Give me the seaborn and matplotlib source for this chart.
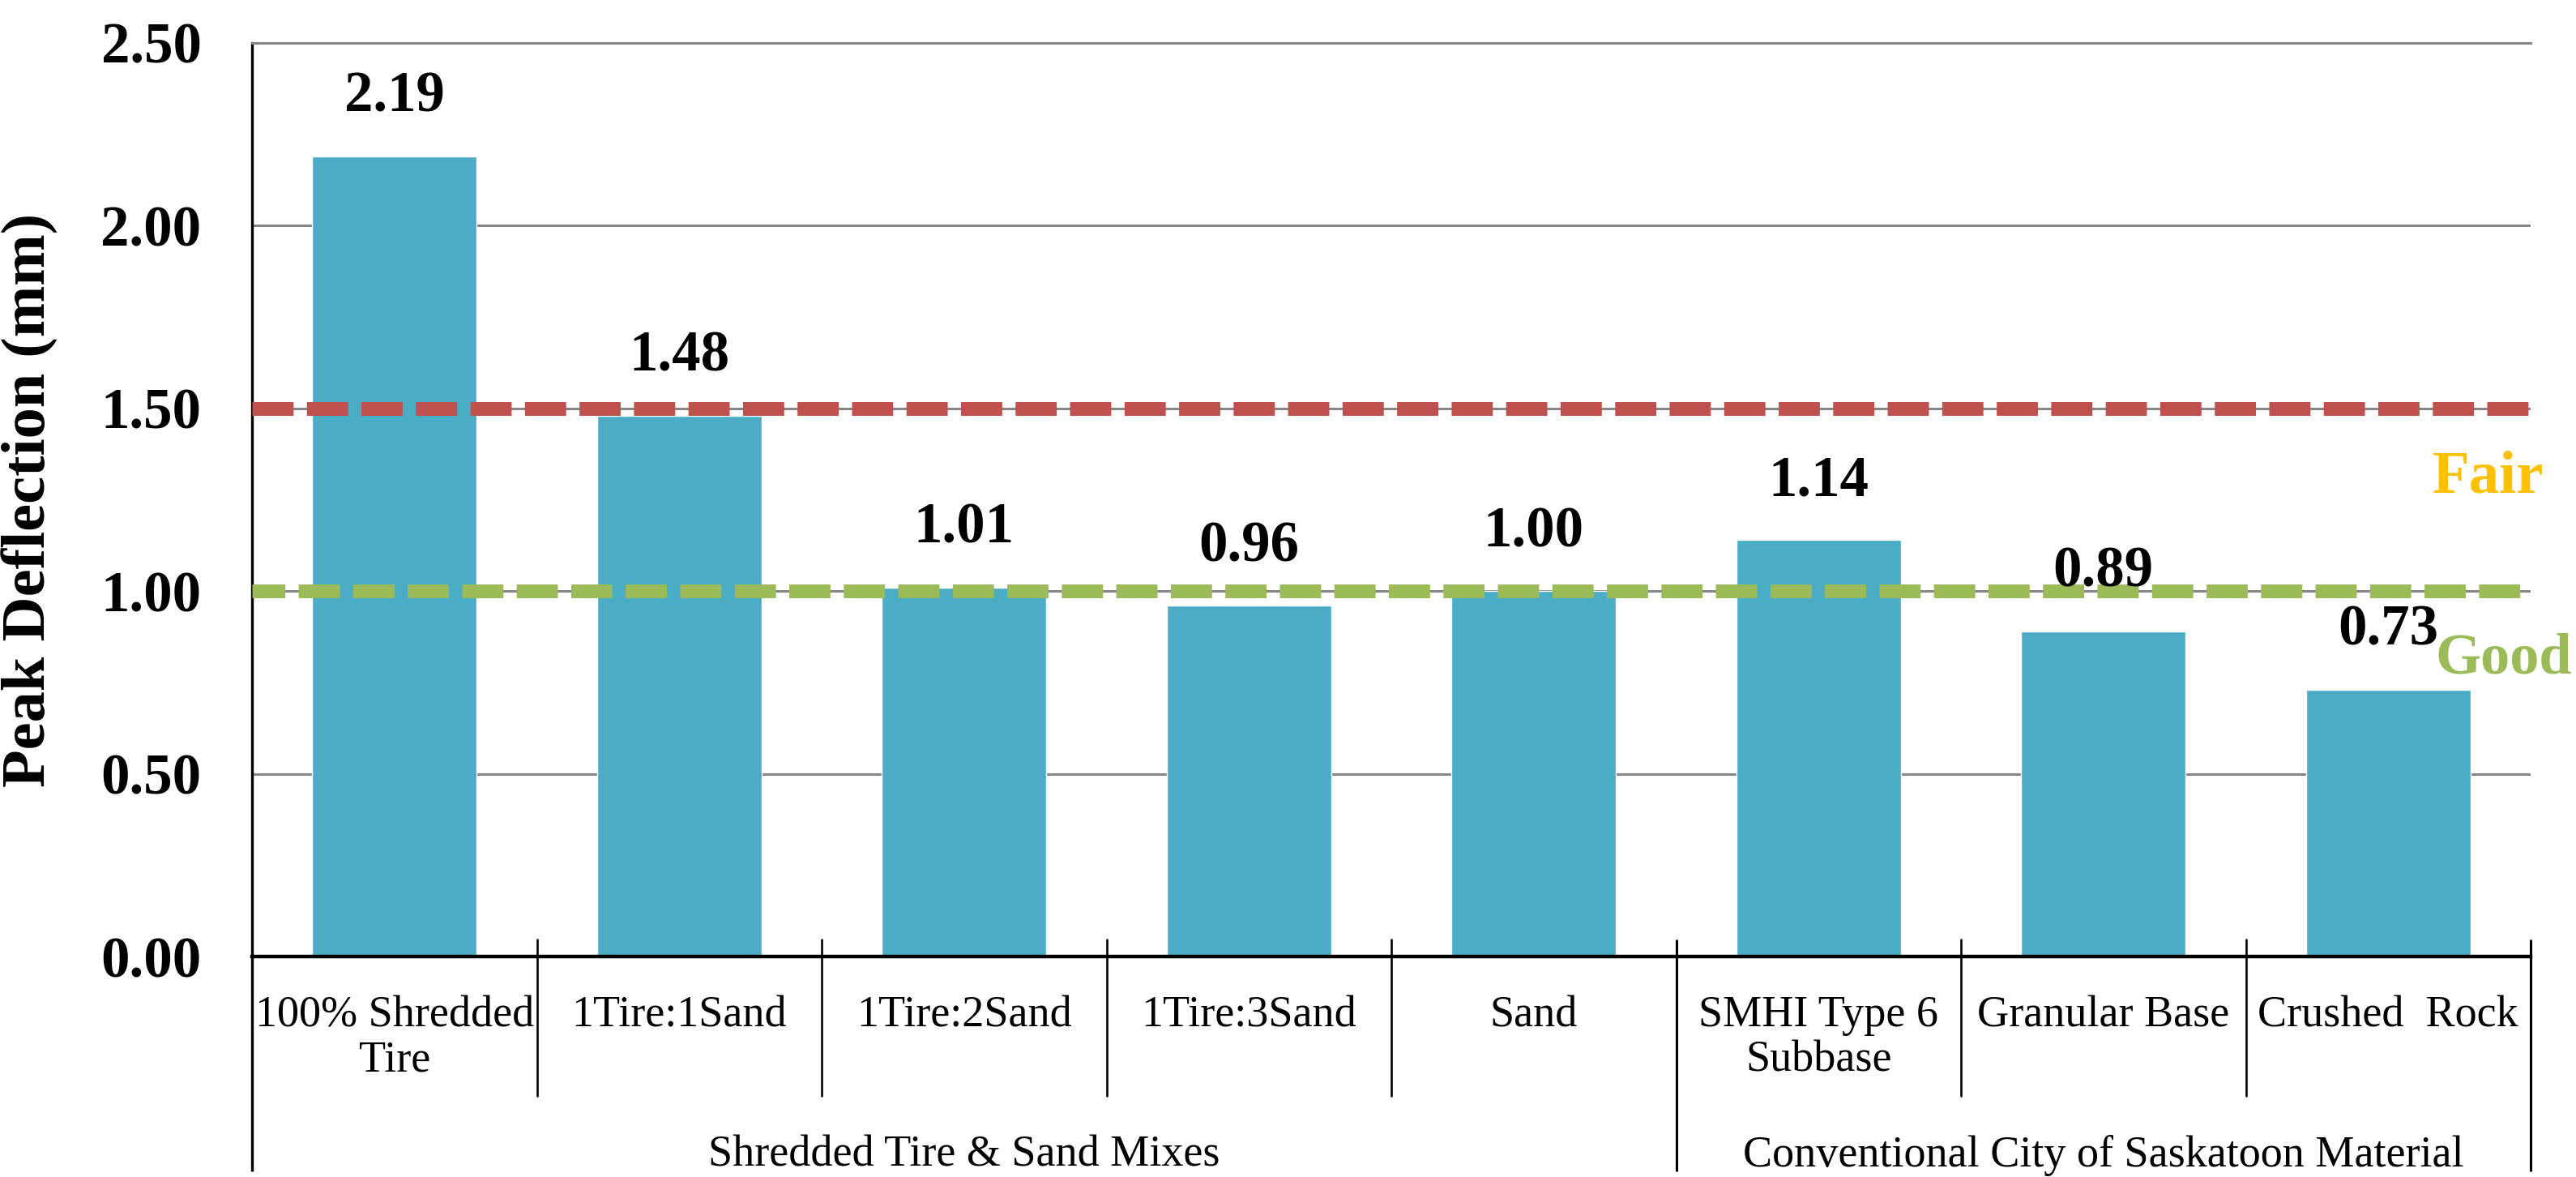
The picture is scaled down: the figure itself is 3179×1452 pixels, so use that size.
import matplotlib
matplotlib.use("Agg")
import matplotlib.pyplot as plt
import matplotlib.transforms as mtransforms
import seaborn as sns
import pandas as pd

# Peak deflection by base material
categories = ["100% Shredded\nTire", "1Tire:1Sand", "1Tire:2Sand", "1Tire:3Sand",
              "Sand", "SMHI Type 6\nSubbase", "Granular Base", "Crushed  Rock"]
deflection = [2.19, 1.48, 1.01, 0.96, 1.00, 1.14, 0.89, 0.73]
value_labels = ["2.19", "1.48", "1.01", "0.96", "1.00", "1.14", "0.89", "0.73"]

# Material groups (name, first category index, last category index)
group_names = ["Shredded Tire & Sand Mixes", "Conventional City of Saskatoon Material"]
group_spans = [(0, 4), (5, 7)]

# Deflection thresholds
fair_limit = 1.50
good_limit = 1.00

y_ticks = [0.0, 0.5, 1.0, 1.5, 2.0, 2.5]
y_tick_labels = ["0.00", "0.50", "1.00", "1.50", "2.00", "2.50"]

BAR = "#4BACC6"
RED = "#C0504D"
GREEN = "#9BBB59"
GOLD = "#FFC000"
GRID = "#868686"
SERIF = ["Liberation Serif", "DejaVu Serif"]

sns.set_theme(style="white")
plt.rcParams["font.family"] = SERIF
plt.rcParams["text.color"] = "black"
plt.rcParams["axes.labelcolor"] = "black"
plt.rcParams["xtick.color"] = "black"
plt.rcParams["ytick.color"] = "black"

W, H, DPI = 3179, 1452, 100
fig = plt.figure(figsize=(W / DPI, H / DPI), dpi=DPI)
left_px, right_px, top_px, zero_px = 311, 3123, 53, 1180
ax = fig.add_axes([left_px / W, 1 - zero_px / H, (right_px - left_px) / W,
                   (zero_px - top_px) / H])

df = pd.DataFrame({"material": categories, "deflection": deflection})
sns.barplot(data=df, x="material", y="deflection", color=BAR, saturation=1,
            width=0.578, ax=ax, zorder=2)

ax.set_xlim(-0.5, len(categories) - 0.5)
ax.set_ylim(0, 2.5)
ax.set_yticks(y_ticks)
ax.set_yticklabels(y_tick_labels, fontsize=51, fontweight="bold", family=SERIF,
                   color="black")
ax.tick_params(axis="y", length=0, pad=45)
ax.tick_params(axis="x", length=0, labelbottom=False)
ax.set_xlabel("")
ax.set_ylabel("Peak Deflection (mm)", fontsize=55, fontweight="bold", family=SERIF,
              color="black")
ax.yaxis.set_label_coords((72 - left_px) / (right_px - left_px), 0.5)

ax.set_axisbelow(True)
ax.yaxis.grid(True, color=GRID, linewidth=2.2)
ax.xaxis.grid(False)
ax.spines["right"].set_visible(False)
ax.spines["top"].set_color(GRID)
ax.spines["top"].set_linewidth(2.2)
ax.spines["left"].set_color("black")
ax.spines["left"].set_linewidth(2.4)
ax.spines["bottom"].set_color("black")
ax.spines["bottom"].set_linewidth(3.2)

# Threshold lines
ax.axhline(fair_limit, color=RED, linewidth=12.2, linestyle=(0, (3.0, 0.97)),
           solid_capstyle="butt", dash_capstyle="butt", zorder=3)
ax.axhline(good_limit, color=GREEN, linewidth=12.2, linestyle=(0.6, (3.0, 0.97)),
           solid_capstyle="butt", dash_capstyle="butt", zorder=3)

# Value labels above bars
for i, (v, lab) in enumerate(zip(deflection, value_labels)):
    ax.annotate(lab, xy=(i, v), xytext=(0, 39.6), textcoords="offset points",
                ha="center", va="baseline", fontsize=51, fontweight="bold",
                family=SERIF, color="black", zorder=5)

# Threshold names
ax.text(7.156, 1.269, "Fair", color=GOLD, fontsize=54, fontweight="bold",
        family=SERIF, ha="left", va="baseline", clip_on=False, zorder=5)
ax.text(7.165, 0.776, "Good", color=GREEN, fontsize=52, fontweight="bold",
        family=SERIF, ha="left", va="baseline", clip_on=False, zorder=5)

# Category axis with grouped labels
span = zero_px - top_px
def ay(px):
    return (zero_px - px) / span

trans = mtransforms.blended_transform_factory(ax.transData, ax.transAxes)
for b in [0.5, 1.5, 2.5, 3.5, 5.5, 6.5]:
    ax.plot([b, b], [ay(1159), ay(1352)], color="black", linewidth=1.9,
            transform=trans, clip_on=False, zorder=4)
for b in [-0.5, 4.5, 7.5]:
    top = ay(1159) if b > 0 else 0
    ax.plot([b, b], [top, ay(1445)], color="black", linewidth=2.2 if b > 0 else 2.4,
            transform=trans, clip_on=False, zorder=4, solid_capstyle="butt")

for i, cat in enumerate(categories):
    ax.text(i, ay(1228), cat, transform=trans, ha="center", va="top",
            fontsize=39, family=SERIF, color="black", linespacing=1.12,
            multialignment="center")

for name, (a, b) in zip(group_names, group_spans):
    ax.text((a + b) / 2, ay(1400), name, transform=trans, ha="center", va="top",
            fontsize=39, family=SERIF, color="black")

fig.savefig("out.png", dpi=DPI)
